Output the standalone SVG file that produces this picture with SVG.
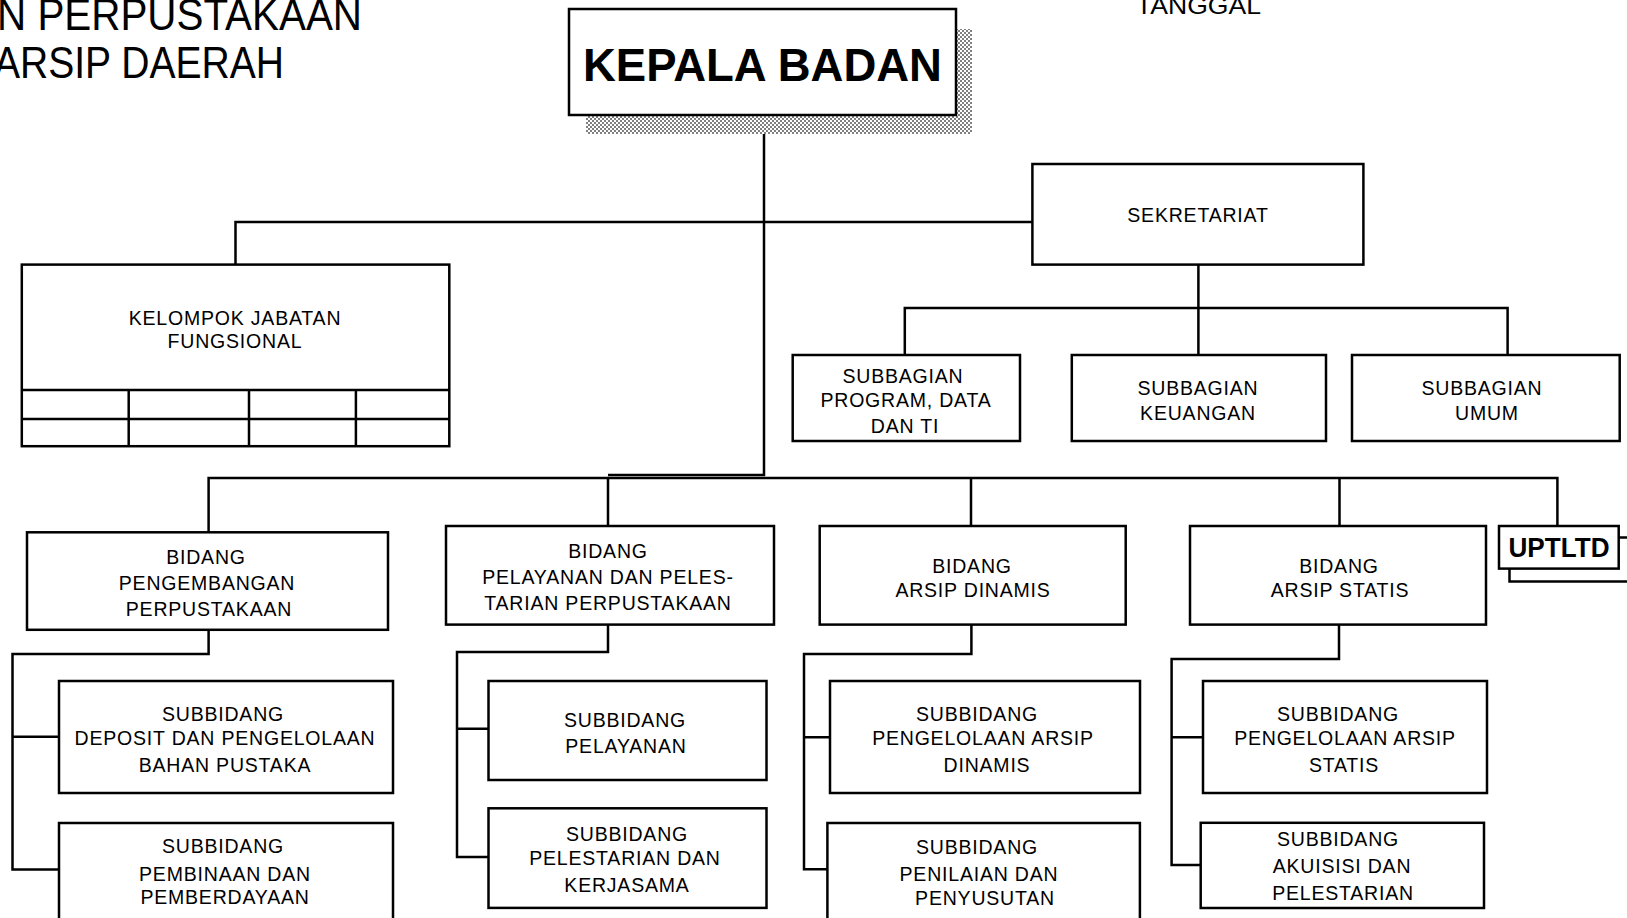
<svg xmlns="http://www.w3.org/2000/svg" width="1627" height="918" viewBox="0 0 1627 918">
<defs>
<pattern id="dither" x="0" y="0" width="4" height="4" patternUnits="userSpaceOnUse">
<rect x="0" y="0" width="4" height="4" fill="#ffffff"/>
<rect x="0" y="0" width="2" height="2" fill="#808080"/>
<rect x="2" y="2" width="2" height="2" fill="#808080"/>
</pattern>
</defs>
<style>
.box{fill:#fff;stroke:#000;stroke-width:2.5}
.conn{fill:none;stroke:#000;stroke-width:2.5}
.t{font-family:"Liberation Sans",Arial,sans-serif;font-size:19.5px;letter-spacing:0.8px;text-anchor:middle;fill:#000}
.title{font-family:"Liberation Sans",Arial,sans-serif;font-size:44px;fill:#000}
.bold{font-family:"Liberation Sans",Arial,sans-serif;font-weight:bold;fill:#000;text-anchor:middle}
</style>
<rect x="0" y="0" width="1627" height="918" fill="#fff"/>

<g id="title">
<text class="title" x="-3" y="30" textLength="365" lengthAdjust="spacingAndGlyphs">N PERPUSTAKAAN</text>
<text class="title" x="-6" y="78" textLength="290" lengthAdjust="spacingAndGlyphs">ARSIP DAERAH</text>
<text class="title" x="1136" y="14" style="font-size:24px" textLength="125" lengthAdjust="spacingAndGlyphs">TANGGAL</text>
</g>

<g id="connectors">
<path class="conn" d="M764,115 V475 H608"/>
<path class="conn" d="M208.6,532 V478 H1557.4 V526"/>
<path class="conn" d="M608,478 V526 M971,478 V526 M1339.5,478 V526"/>
<path class="conn" d="M235.5,264.6 V222 H1032.4"/>
<path class="conn" d="M1198.4,264.6 V356 M904.8,355 V308 H1507.6 V355"/>
<path class="conn" d="M208.6,629.8 V654 H12.5 V869.5 H59 M12.5,736.7 H59"/>
<path class="conn" d="M608,624.6 V652 H457 V857 H488.5 M457,728.7 H488.5"/>
<path class="conn" d="M971.4,624.6 V654 H804 V869.3 H827.4 M804,737.3 H830"/>
<path class="conn" d="M1339,624.6 V659 H1171.6 V865 H1203 M1171.6,737.3 H1203"/>
</g>

<g id="kepala-badan">
<rect x="586" y="29" width="386" height="105" fill="url(#dither)"/>
<rect class="box" x="569" y="9" width="387" height="106"/>
<text class="bold" x="762.5" y="81" style="font-size:47px" textLength="359" lengthAdjust="spacingAndGlyphs">KEPALA BADAN</text>
</g>

<g id="sekretariat">
<rect class="box" x="1032.4" y="164" width="331" height="100.6"/>
<text class="t" x="1198" y="222">SEKRETARIAT</text>
</g>

<g id="kelompok-jabatan-fungsional">
<rect class="box" x="21.8" y="264.6" width="427.5" height="181.6"/>
<path class="conn" d="M21.8,390 H449.3 M21.8,419 H449.3 M128.7,390 V446.2 M249,390 V446.2 M355.9,390 V446.2"/>
<text class="t" x="235" y="324.5">KELOMPOK JABATAN</text>
<text class="t" x="235" y="348">FUNGSIONAL</text>
</g>

<g id="subbagian-program">
<rect class="box" x="792.7" y="355" width="227.3" height="86"/>
<text class="t" x="903" y="383">SUBBAGIAN</text>
<text class="t" x="906" y="407">PROGRAM, DATA</text>
<text class="t" x="905" y="433">DAN TI</text>
</g>

<g id="subbagian-keuangan">
<rect class="box" x="1071.8" y="355" width="254.2" height="86"/>
<text class="t" x="1198" y="395">SUBBAGIAN</text>
<text class="t" x="1198" y="420">KEUANGAN</text>
</g>

<g id="subbagian-umum">
<rect class="box" x="1352" y="355" width="267.7" height="86"/>
<text class="t" x="1482" y="395">SUBBAGIAN</text>
<text class="t" x="1487" y="420">UMUM</text>
</g>

<g id="bidang-pengembangan">
<rect class="box" x="27" y="532.3" width="361" height="97.5"/>
<text class="t" x="206" y="564">BIDANG</text>
<text class="t" x="207" y="590">PENGEMBANGAN</text>
<text class="t" x="209" y="616">PERPUSTAKAAN</text>
</g>

<g id="bidang-pelayanan">
<rect class="box" x="446" y="526" width="328" height="98.6"/>
<text class="t" x="608" y="558">BIDANG</text>
<text class="t" x="608" y="584">PELAYANAN DAN PELES-</text>
<text class="t" x="608" y="610">TARIAN PERPUSTAKAAN</text>
</g>

<g id="bidang-arsip-dinamis">
<rect class="box" x="819.7" y="526" width="306" height="98.6"/>
<text class="t" x="972" y="573">BIDANG</text>
<text class="t" x="973" y="597">ARSIP DINAMIS</text>
</g>

<g id="bidang-arsip-statis">
<rect class="box" x="1190" y="526" width="296" height="98.6"/>
<text class="t" x="1339" y="573">BIDANG</text>
<text class="t" x="1340" y="597">ARSIP STATIS</text>
</g>

<g id="uptltd">
<rect class="box" x="1509.5" y="537.5" width="130" height="44"/>
<rect class="box" x="1499" y="526" width="119.7" height="42.6"/>
<text class="bold" x="1559" y="557" style="font-size:27px" textLength="101" lengthAdjust="spacingAndGlyphs">UPTLTD</text>
</g>

<g id="subbidang-deposit">
<rect class="box" x="59" y="681" width="334" height="112"/>
<text class="t" x="223" y="721">SUBBIDANG</text>
<text class="t" x="225" y="745">DEPOSIT DAN PENGELOLAAN</text>
<text class="t" x="225" y="771.5">BAHAN PUSTAKA</text>
</g>

<g id="subbidang-pembinaan">
<rect class="box" x="59" y="823" width="334" height="110"/>
<text class="t" x="223" y="853">SUBBIDANG</text>
<text class="t" x="225" y="880.5">PEMBINAAN DAN</text>
<text class="t" x="225" y="904">PEMBERDAYAAN</text>
</g>

<g id="subbidang-pelayanan">
<rect class="box" x="488.5" y="681" width="278" height="99"/>
<text class="t" x="625" y="727">SUBBIDANG</text>
<text class="t" x="626" y="753">PELAYANAN</text>
</g>

<g id="subbidang-pelestarian-kerjasama">
<rect class="box" x="488.5" y="808.3" width="278" height="99.6"/>
<text class="t" x="627" y="841">SUBBIDANG</text>
<text class="t" x="625" y="865">PELESTARIAN DAN</text>
<text class="t" x="627" y="891.5">KERJASAMA</text>
</g>

<g id="subbidang-pengelolaan-dinamis">
<rect class="box" x="830" y="681" width="310" height="112"/>
<text class="t" x="977" y="721">SUBBIDANG</text>
<text class="t" x="983" y="745">PENGELOLAAN ARSIP</text>
<text class="t" x="987" y="771.5">DINAMIS</text>
</g>

<g id="subbidang-penilaian">
<rect class="box" x="827.4" y="823" width="312.5" height="110"/>
<text class="t" x="977" y="853.5">SUBBIDANG</text>
<text class="t" x="979" y="880.5">PENILAIAN DAN</text>
<text class="t" x="985" y="905">PENYUSUTAN</text>
</g>

<g id="subbidang-pengelolaan-statis">
<rect class="box" x="1203" y="681" width="284" height="112"/>
<text class="t" x="1338" y="721">SUBBIDANG</text>
<text class="t" x="1345" y="745">PENGELOLAAN ARSIP</text>
<text class="t" x="1344" y="771.5">STATIS</text>
</g>

<g id="subbidang-akuisisi">
<rect class="box" x="1200.7" y="822.8" width="283.3" height="85.2"/>
<text class="t" x="1338" y="846">SUBBIDANG</text>
<text class="t" x="1342" y="872.5">AKUISISI DAN</text>
<text class="t" x="1343" y="899.5">PELESTARIAN</text>
</g>
</svg>
